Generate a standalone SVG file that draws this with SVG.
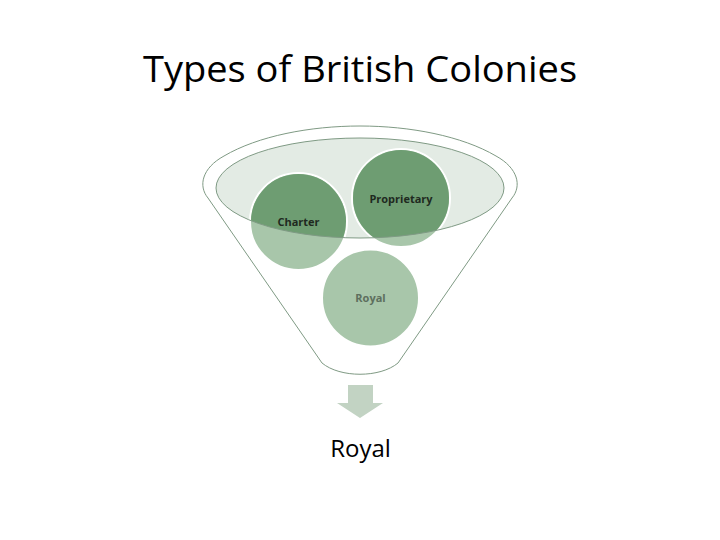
<svg xmlns="http://www.w3.org/2000/svg" width="720" height="540" viewBox="0 0 720 540">
<style>
.title{font-family:"Open Sans","Liberation Sans",sans-serif;font-size:36px;fill:#000}
.lbl{font-family:"Open Sans","Liberation Sans",sans-serif;font-size:11px;font-weight:bold;text-anchor:middle}
.out{font-family:"Open Sans","Liberation Sans",sans-serif;font-size:24px;fill:#000;text-anchor:middle}
.line{fill:none;stroke:#7f9a84;stroke-width:1}
.light{fill:#a8c6aa;stroke:#fff;stroke-width:2}
.dark{fill:#6e9d72}
</style>
<defs>
<clipPath id="ell"><ellipse cx="360" cy="188" rx="144" ry="50"/></clipPath>
</defs>
<rect width="720" height="540" fill="#fff"/>
<text class="title" x="143" y="82" textLength="434" lengthAdjust="spacingAndGlyphs">Types of British Colonies</text>
<g id="funnel">
<path class="line" d="M208,198 C198,186 202,168 224,156 C258,136 310,126 360,126 C410,126 462,136 496,156 C518,168 522,186 512,198 L398,363 C380,378 340,378 322,363 Z" fill="#fff"/>
<ellipse cx="360" cy="188" rx="144" ry="50" fill="#e3ebe4"/>
</g>
<g id="charter">
<circle class="light" cx="298.5" cy="221.5" r="48.5"/>
<circle class="dark" cx="298.5" cy="221.5" r="47.5" clip-path="url(#ell)"/>
<text class="lbl" x="298.5" y="226" fill="#1f2a1f">Charter</text>
</g>
<g id="proprietary">
<circle class="light" cx="401" cy="198" r="49"/>
<circle class="dark" cx="401" cy="198" r="48" clip-path="url(#ell)"/>
<text class="lbl" x="401" y="203" fill="#1f2a1f">Proprietary</text>
</g>
<g id="royal-circle">
<circle class="light" cx="370.5" cy="298" r="48.5"/>
<text class="lbl" x="370.5" y="302" fill="#5d6f5e">Royal</text>
</g>
<ellipse class="line" cx="360" cy="188" rx="144" ry="50" stroke="#6e8f72"/>
<g id="connectors">
<path d="M348,385 L373,385 L373,403 L383,403 L360,418 L337,403 L348,403 Z" fill="#c2d3c3"/>
</g>
<g id="result">
<text class="out" x="360.5" y="457">Royal</text>
</g>
</svg>
